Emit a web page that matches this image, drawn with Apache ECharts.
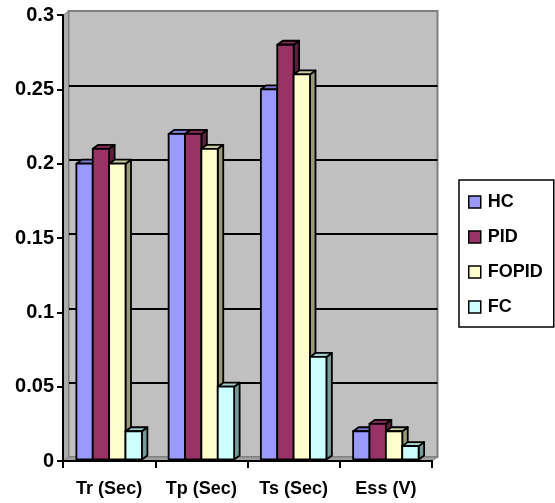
<!DOCTYPE html>
<html>
<head>
<meta charset="utf-8">
<script src="https://cdn.jsdelivr.net/npm/echarts@6/dist/echarts.min.js"></script>
<style>
html,body{margin:0;padding:0;background:#fff;}
#main{width:555px;height:503px;}
</style>
</head>
<body>
<div id="main"></div>
<script>
const categories = ['Tr (Sec)', 'Tp (Sec)', 'Ts (Sec)', 'Ess (V)'];
const seriesNames = ['HC', 'PID', 'FOPID', 'FC'];
const hcValues = [0.2, 0.22, 0.25, 0.02];
const pidValues = [0.21, 0.22, 0.28, 0.025];
const fopidValues = [0.2, 0.21, 0.26, 0.02];
const fcValues = [0.02, 0.05, 0.07, 0.01];
const yMin = 0, yMax = 0.3, yInterval = 0.05;

const colors = ['#9999FF', '#993366', '#FFFFCC', '#CCFFFF'];
const topColors = ['#7A7ACC', '#7A2952', '#CCCCA3', '#A3CCCC'];
const sideColors = ['#5C5C99', '#5C1F3D', '#99997A', '#7A9999'];
const allValues = [hcValues, pidValues, fopidValues, fcValues];

const DX = 5.5, DY = -4;
const GAP = 0.29;
const FONT = 'Liberation Sans';

function makeBar(sIdx) {
  return function (params, api) {
    const cat = api.value(0), val = api.value(1);
    const top = api.coord([cat, val]);
    const base = api.coord([cat, 0]);
    const band = api.size([1, 0])[0];
    const groupW = band * (1 - GAP);
    const bw = groupW / 4;
    const x0 = top[0] - groupW / 2 + sIdx * bw;
    const y0 = top[1], y1 = base[1] - 1.5;
    const st = {stroke: '#000', lineWidth: 1.8, lineJoin: 'round'};
    return {
      type: 'group',
      children: [
        {type: 'polygon', shape: {points: [[x0 + bw, y0], [x0 + bw + DX, y0 + DY], [x0 + bw + DX, y1 + DY], [x0 + bw, y1]]},
          style: Object.assign({fill: sideColors[sIdx]}, st)},
        {type: 'polygon', shape: {points: [[x0, y0], [x0 + DX, y0 + DY], [x0 + bw + DX, y0 + DY], [x0 + bw, y0]]},
          style: Object.assign({fill: topColors[sIdx]}, st)},
        {type: 'rect', shape: {x: x0, y: y0, width: bw, height: y1 - y0},
          style: Object.assign({fill: colors[sIdx]}, st)}
      ]
    };
  };
}

function renderWalls(params, api) {
  const cs = params.coordSys;
  const bx = cs.x, by = cs.y, bw = cs.width, bh = cs.height;
  const fx = bx - DX + 0.5, fyTop = by - DY, fyBot = by + bh - DY;
  return {
    type: 'group',
    children: [
      {type: 'polygon', shape: {points: [[fx, fyTop], [bx, by], [bx, by + bh], [fx, fyBot]]},
        style: {fill: '#ABABAB', stroke: '#808080', lineWidth: 1}},
      {type: 'polygon', shape: {points: [[fx, fyBot], [bx, by + bh], [bx + bw, by + bh], [bx + bw - DX, fyBot]]},
        style: {fill: '#A0A0A0', stroke: '#808080', lineWidth: 1}}
    ]
  };
}

const chart = echarts.init(document.getElementById('main'), null, {renderer: 'canvas'});

const barSeries = seriesNames.map((name, s) => ({
  name: name,
  type: 'custom',
  xAxisIndex: 0,
  yAxisIndex: 0,
  z: 3,
  renderItem: makeBar(s),
  encode: {x: 0, y: 1},
  itemStyle: {color: colors[s], borderColor: '#000', borderWidth: 1.5},
  data: allValues[s].map((v, i) => [i, v])
}));

const option = {
  animation: false,
  backgroundColor: '#ffffff',
  legend: {
    data: seriesNames,
    orient: 'vertical',
    left: 459,
    top: 180,
    padding: [13, 11, 11, 9],
    itemGap: 17,
    itemWidth: 12,
    itemHeight: 12,
    icon: 'rect',
    borderColor: '#000',
    borderWidth: 1.5,
    itemStyle: {borderColor: '#000', borderWidth: 1.5},
    textStyle: {fontFamily: FONT, fontWeight: 'bold', fontSize: 18, color: '#000', padding: [0, 0, 0, 2]}
  },
  grid: [
    {left: 63, right: 123, top: 15, bottom: 42, show: false, containLabel: false},
    {left: 68.5, right: 117.5, top: 11, bottom: 46, show: true, backgroundColor: '#C0C0C0',
      borderColor: '#808080', borderWidth: 2, containLabel: false}
  ],
  xAxis: [
    {type: 'category', gridIndex: 0, data: categories, z: 5,
      axisLine: {show: true, lineStyle: {color: '#000', width: 2}},
      axisTick: {show: true, length: 7, lineStyle: {color: '#000', width: 2}, alignWithLabel: false},
      axisLabel: {interval: 0, fontFamily: FONT, fontWeight: 'bold', fontSize: 18, color: '#000', margin: 19},
      splitLine: {show: false}},
    {type: 'category', gridIndex: 1, data: categories, show: false}
  ],
  yAxis: [
    {type: 'value', gridIndex: 0, min: yMin, max: yMax, interval: yInterval, z: 5,
      axisLine: {show: true, lineStyle: {color: '#000', width: 2}},
      axisTick: {show: true, length: 6, lineStyle: {color: '#000', width: 2}},
      axisLabel: {fontFamily: FONT, fontWeight: 'bold', fontSize: 20, color: '#000', margin: 9},
      splitLine: {show: false}},
    {type: 'value', gridIndex: 1, min: yMin, max: yMax, interval: yInterval,
      axisLine: {show: false}, axisTick: {show: false}, axisLabel: {show: false},
      splitLine: {show: true, lineStyle: {width: 2,
        color: ['#808080', '#000', '#000', '#000', '#000', '#000', '#808080']}}}
  ],
  series: [
    {name: 'walls', type: 'custom', xAxisIndex: 1, yAxisIndex: 1, z: 1, silent: true,
      renderItem: renderWalls, data: [[0, 0]]}
  ].concat(barSeries)
};

chart.setOption(option);
</script>
</body>
</html>
